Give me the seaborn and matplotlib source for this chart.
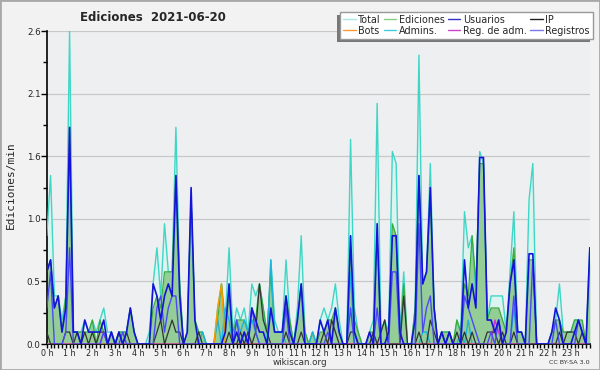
import numpy as np
import matplotlib
matplotlib.use('Agg')
import matplotlib.pyplot as plt
from matplotlib.lines import Line2D
from matplotlib.patches import Rectangle
import seaborn as sns

# 10-minute slots, edits per minute (one line = two hours)
total = [
    0.9, 1.4, 0.4, 0.4, 0.2, 0.4,  2.6, 0.1, 0.1, 0.1, 0.2, 0.1,
    0.2, 0.1, 0.2, 0.3, 0.1, 0.1,  0.0, 0.1, 0.1, 0.1, 0.3, 0.1,
    0.0, 0.0, 0.0, 0.1, 0.5, 0.8,  0.4, 1.0, 0.6, 0.6, 1.8, 0.5,
    0.0, 0.1, 1.2, 0.2, 0.1, 0.1,  0.0, 0.0, 0.0, 0.3, 0.5, 0.2,
    0.8, 0.1, 0.3, 0.2, 0.3, 0.1,  0.5, 0.4, 0.5, 0.3, 0.0, 0.7,
    0.2, 0.1, 0.1, 0.7, 0.2, 0.0,  0.3, 0.9, 0.1, 0.0, 0.1, 0.0,
    0.2, 0.3, 0.2, 0.3, 0.5, 0.2,  0.0, 0.0, 1.7, 0.3, 0.1, 0.0,
    0.0, 0.1, 0.2, 2.0, 0.1, 0.2,  0.1, 1.6, 1.5, 0.1, 0.6, 0.0,
    0.0, 0.3, 2.4, 0.5, 0.6, 1.5,  0.3, 0.0, 0.1, 0.1, 0.1, 0.0,
    0.2, 0.1, 1.1, 0.8, 0.9, 0.4,  1.6, 1.5, 0.2, 0.4, 0.4, 0.4,
    0.4, 0.1, 0.6, 1.1, 0.1, 0.1,  0.0, 1.2, 1.5, 0.0, 0.0, 0.0,
    0.0, 0.1, 0.2, 0.5, 0.1, 0.1,  0.1, 0.2, 0.2, 0.1, 0.0, 0.8,
]
ediciones = [
    0.6, 0.7, 0.3, 0.4, 0.1, 0.4,  1.8, 0.1, 0.1, 0.1, 0.1, 0.1,
    0.2, 0.0, 0.2, 0.1, 0.0, 0.1,  0.0, 0.1, 0.1, 0.1, 0.3, 0.1,
    0.0, 0.0, 0.0, 0.0, 0.3, 0.4,  0.3, 0.6, 0.6, 0.6, 1.4, 0.5,
    0.0, 0.1, 1.2, 0.2, 0.1, 0.1,  0.0, 0.0, 0.0, 0.2, 0.5, 0.1,
    0.4, 0.1, 0.2, 0.2, 0.2, 0.1,  0.2, 0.2, 0.5, 0.3, 0.1, 0.6,
    0.1, 0.1, 0.1, 0.4, 0.2, 0.0,  0.2, 0.5, 0.1, 0.0, 0.1, 0.0,
    0.1, 0.1, 0.2, 0.2, 0.3, 0.1,  0.0, 0.0, 0.8, 0.2, 0.1, 0.0,
    0.0, 0.1, 0.1, 0.9, 0.1, 0.2,  0.0, 1.0, 0.9, 0.0, 0.5, 0.0,
    0.0, 0.3, 1.4, 0.5, 0.6, 1.2,  0.3, 0.0, 0.1, 0.1, 0.1, 0.0,
    0.2, 0.1, 0.5, 0.4, 0.9, 0.5,  1.5, 1.5, 0.2, 0.3, 0.3, 0.3,
    0.2, 0.1, 0.5, 0.8, 0.1, 0.1,  0.0, 0.7, 0.7, 0.0, 0.0, 0.0,
    0.0, 0.1, 0.2, 0.2, 0.1, 0.1,  0.1, 0.2, 0.2, 0.2, 0.0, 0.7,
]
usuarios = [
    0.6, 0.7, 0.3, 0.4, 0.1, 0.3,  1.8, 0.1, 0.1, 0.0, 0.2, 0.1,
    0.1, 0.1, 0.1, 0.2, 0.0, 0.1,  0.0, 0.1, 0.0, 0.1, 0.3, 0.1,
    0.0, 0.0, 0.0, 0.0, 0.5, 0.4,  0.2, 0.4, 0.5, 0.4, 1.4, 0.4,
    0.0, 0.1, 1.3, 0.2, 0.0, 0.0,  0.0, 0.0, 0.0, 0.0, 0.0, 0.1,
    0.5, 0.0, 0.1, 0.0, 0.1, 0.0,  0.3, 0.2, 0.1, 0.1, 0.0, 0.3,
    0.1, 0.1, 0.1, 0.4, 0.1, 0.0,  0.2, 0.5, 0.0, 0.0, 0.0, 0.0,
    0.2, 0.1, 0.2, 0.0, 0.3, 0.1,  0.0, 0.0, 0.9, 0.1, 0.0, 0.0,
    0.0, 0.1, 0.0, 1.0, 0.0, 0.0,  0.1, 0.9, 0.9, 0.1, 0.0, 0.0,
    0.0, 0.2, 1.4, 0.5, 0.6, 1.3,  0.3, 0.0, 0.1, 0.0, 0.1, 0.0,
    0.0, 0.0, 0.7, 0.3, 0.5, 0.3,  1.55, 1.55, 0.2, 0.2, 0.1, 0.2,
    0.0, 0.1, 0.5, 0.7, 0.1, 0.1,  0.0, 0.75, 0.75, 0.0, 0.0, 0.0,
    0.0, 0.1, 0.3, 0.2, 0.0, 0.0,  0.0, 0.1, 0.2, 0.1, 0.0, 0.8,
]
registros = [
    0.3, 0.6, 0.0, 0.0, 0.0, 0.1,  0.8, 0.0, 0.0, 0.0, 0.0, 0.0,
    0.0, 0.0, 0.0, 0.1, 0.0, 0.1,  0.0, 0.0, 0.1, 0.0, 0.0, 0.0,
    0.0, 0.0, 0.0, 0.0, 0.0, 0.3,  0.4, 0.1, 0.3, 0.4, 0.4, 0.0,
    0.0, 0.0, 0.0, 0.0, 0.0, 0.0,  0.0, 0.0, 0.0, 0.0, 0.0, 0.0,
    0.0, 0.0, 0.2, 0.0, 0.1, 0.0,  0.3, 0.1, 0.0, 0.0, 0.0, 0.0,
    0.0, 0.0, 0.0, 0.3, 0.0, 0.0,  0.0, 0.0, 0.0, 0.0, 0.0, 0.0,
    0.0, 0.0, 0.1, 0.0, 0.0, 0.0,  0.0, 0.0, 0.3, 0.0, 0.0, 0.0,
    0.0, 0.0, 0.0, 0.3, 0.0, 0.0,  0.0, 0.6, 0.6, 0.0, 0.0, 0.0,
    0.0, 0.0, 1.0, 0.1, 0.3, 0.4,  0.0, 0.0, 0.0, 0.0, 0.0, 0.0,
    0.0, 0.0, 0.4, 0.3, 0.2, 0.1,  0.0, 0.0, 0.0, 0.1, 0.0, 0.2,
    0.0, 0.0, 0.0, 0.4, 0.0, 0.0,  0.0, 0.0, 0.7, 0.0, 0.0, 0.0,
    0.0, 0.0, 0.2, 0.0, 0.0, 0.0,  0.0, 0.0, 0.2, 0.1, 0.0, 0.0,
]
ip = [
    0.1, 0.0, 0.0, 0.0, 0.0, 0.1,  0.1, 0.0, 0.1, 0.0, 0.1, 0.0,
    0.1, 0.0, 0.1, 0.1, 0.0, 0.0,  0.0, 0.1, 0.0, 0.1, 0.0, 0.0,
    0.0, 0.0, 0.0, 0.0, 0.0, 0.1,  0.2, 0.0, 0.1, 0.2, 0.1, 0.1,
    0.0, 0.0, 0.0, 0.0, 0.1, 0.0,  0.0, 0.0, 0.0, 0.0, 0.0, 0.0,
    0.1, 0.0, 0.0, 0.1, 0.0, 0.1,  0.0, 0.1, 0.5, 0.2, 0.1, 0.0,
    0.0, 0.0, 0.0, 0.1, 0.0, 0.0,  0.0, 0.1, 0.0, 0.0, 0.0, 0.0,
    0.0, 0.1, 0.0, 0.2, 0.1, 0.0,  0.0, 0.0, 0.1, 0.1, 0.0, 0.0,
    0.0, 0.0, 0.1, 0.0, 0.1, 0.2,  0.0, 0.0, 0.0, 0.0, 0.4, 0.0,
    0.0, 0.0, 0.1, 0.0, 0.0, 0.2,  0.1, 0.0, 0.1, 0.0, 0.1, 0.0,
    0.1, 0.0, 0.1, 0.0, 0.1, 0.0,  0.0, 0.0, 0.1, 0.1, 0.1, 0.0,
    0.1, 0.0, 0.0, 0.1, 0.0, 0.0,  0.0, 0.0, 0.0, 0.0, 0.0, 0.0,
    0.0, 0.0, 0.0, 0.1, 0.0, 0.1,  0.1, 0.1, 0.0, 0.1, 0.0, 0.0,
]
admins = [
    0.0, 0.0, 0.0, 0.0, 0.0, 0.0,  0.0, 0.0, 0.0, 0.0, 0.0, 0.0,
    0.0, 0.0, 0.0, 0.0, 0.0, 0.0,  0.0, 0.0, 0.0, 0.0, 0.0, 0.0,
    0.0, 0.0, 0.0, 0.0, 0.0, 0.0,  0.0, 0.0, 0.0, 0.0, 0.0, 0.0,
    0.0, 0.0, 0.0, 0.0, 0.0, 0.1,  0.0, 0.0, 0.0, 0.2, 0.0, 0.3,
    0.2, 0.0, 0.2, 0.1, 0.2, 0.1,  0.2, 0.1, 0.0, 0.0, 0.0, 0.7,
    0.1, 0.1, 0.1, 0.0, 0.0, 0.0,  0.0, 0.0, 0.0, 0.0, 0.1, 0.0,
    0.0, 0.0, 0.0, 0.0, 0.0, 0.0,  0.0, 0.0, 0.6, 0.0, 0.0, 0.0,
    0.0, 0.0, 0.0, 0.0, 0.0, 0.0,  0.0, 0.0, 0.0, 0.0, 0.0, 0.0,
    0.0, 0.0, 0.0, 0.1, 0.1, 0.0,  0.0, 0.0, 0.1, 0.0, 0.1, 0.0,
    0.0, 0.1, 0.0, 0.2, 0.0, 0.0,  0.0, 0.0, 0.0, 0.0, 0.0, 0.0,
    0.0, 0.0, 0.0, 0.3, 0.0, 0.0,  0.0, 0.0, 0.0, 0.0, 0.0, 0.0,
    0.0, 0.0, 0.0, 0.0, 0.0, 0.0,  0.0, 0.0, 0.0, 0.0, 0.0, 0.0,
]
bots = [0.0] * 144
bots[45] = 0.3
bots[46] = 0.5
reg_adm = [0.0] * 144
reg_adm[15] = 0.1
reg_adm[118] = 0.2
reg_adm[119] = 0.1

y_ticks = [0, 0.52, 1.04, 1.56, 2.08, 2.6]
y_labels = ['0.0', '0.5', '1.0', '1.6', '2.1', '2.6']
hour_labels = [f'{h} h' for h in range(24)]

sns.set_style('ticks')
plt.rcParams['font.family'] = ['DejaVu Sans']

hours = np.arange(len(total)) / 6.0

fig = plt.figure(figsize=(6, 3.7), dpi=100, facecolor='#f2f2f2')
ax = fig.add_axes([0.078, 0.07, 0.905, 0.846])
ax.set_facecolor('#eeeff1')

# areas
ax.fill_between(hours, total, color='#dcf4ef', lw=0, zorder=1)
ax.fill_between(hours, ediciones, color='#8ec98e', alpha=0.9, lw=0, zorder=2)

# lines
series = [
    (total, '#3fd6c6', 1.0),
    (ediciones, '#3aaa3a', 0.9),
    (admins, '#1cb4dc', 1.0),
    (bots, '#ff9900', 1.0),
    (reg_adm, '#cc33cc', 1.0),
    (ip, '#333333', 0.9),
    (registros, '#4a4af5', 1.0),
    (usuarios, '#1414d8', 1.2),
]
for vals, col, lw in series:
    sns.lineplot(x=hours, y=vals, color=col, linewidth=lw, ax=ax, zorder=3)

ax.set_xlim(0, hours[-1])
ax.set_ylim(0, 2.6)
ax.set_yticks(y_ticks)
ax.set_yticklabels(y_labels)
ax.set_yticks(np.arange(0.26, 2.6, 0.52), minor=True)
ax.set_xticks(range(24))
ax.set_xticklabels(hour_labels)
ax.set_xticks(hours, minor=True)
ax.tick_params(axis='both', which='major', labelsize=6.3, length=4, width=1, pad=0.5, color='black')
ax.tick_params(axis='x', which='major', labelsize=5.8, length=3)
ax.tick_params(axis='both', which='minor', length=3, width=1, color='black')
ax.yaxis.grid(True, which='major', color='#c8c8c8', lw=0.9)
ax.set_axisbelow(True)
for s in ['top', 'right']:
    ax.spines[s].set_visible(False)
for s in ['left', 'bottom']:
    ax.spines[s].set_color('black')
    ax.spines[s].set_linewidth(1.2)
ax.set_xlabel('')
ax.set_ylabel('')

fig.text(0.018, 0.50, 'Ediciones/min', rotation=90, ha='center', va='center',
         family='DejaVu Sans Mono', fontsize=8)
fig.text(0.255, 0.952, 'Ediciones  2021-06-20', ha='center', va='center',
         fontsize=8.5, fontweight='bold')
fig.text(0.5, 0.019, 'wikiscan.org', ha='center', va='center', fontsize=6.3, color='#333333')
fig.text(0.983, 0.019, 'CC BY-SA 3.0', ha='right', va='center', fontsize=4.6, color='#333333')

# legend (column order so the rows read Total, Ediciones, Usuarios, IP / Bots, ...)
leg_items = [
    ('Total', '#a8e8e0'), ('Bots', '#ff9933'),
    ('Ediciones', '#88cc88'), ('Admins.', '#44ccdd'),
    ('Usuarios', '#3333cc'), ('Reg. de adm.', '#cc44cc'),
    ('IP', '#222222'), ('Registros', '#7777ee'),
]
handles = [Line2D([], [], color=c, lw=1) for _, c in leg_items]
labels = [n for n, _ in leg_items]
leg = fig.legend(handles, labels, ncol=4, loc='upper right', bbox_to_anchor=(0.988, 0.968),
                 fontsize=6.9, frameon=True, fancybox=False, edgecolor='#999999',
                 facecolor='white', framealpha=1,
                 handlelength=1.3, handletextpad=0.3, columnspacing=0.3,
                 labelspacing=0.1, borderpad=0.3, borderaxespad=0)
leg.set_zorder(10)

# flat dark shadow down-left of the legend box
fig.canvas.draw()
bb = leg.get_window_extent()
fig.patches.append(Rectangle((bb.x0 - 3, bb.y0 - 3), bb.width, bb.height, transform=None,
                             facecolor='#777777', edgecolor='none', zorder=9))

fig.patches.append(Rectangle((0, 0), 1, 1, transform=fig.transFigure, fill=False,
                             edgecolor='#a8a8a8', lw=2))

fig.savefig('out.png', dpi=100, facecolor=fig.get_facecolor())
